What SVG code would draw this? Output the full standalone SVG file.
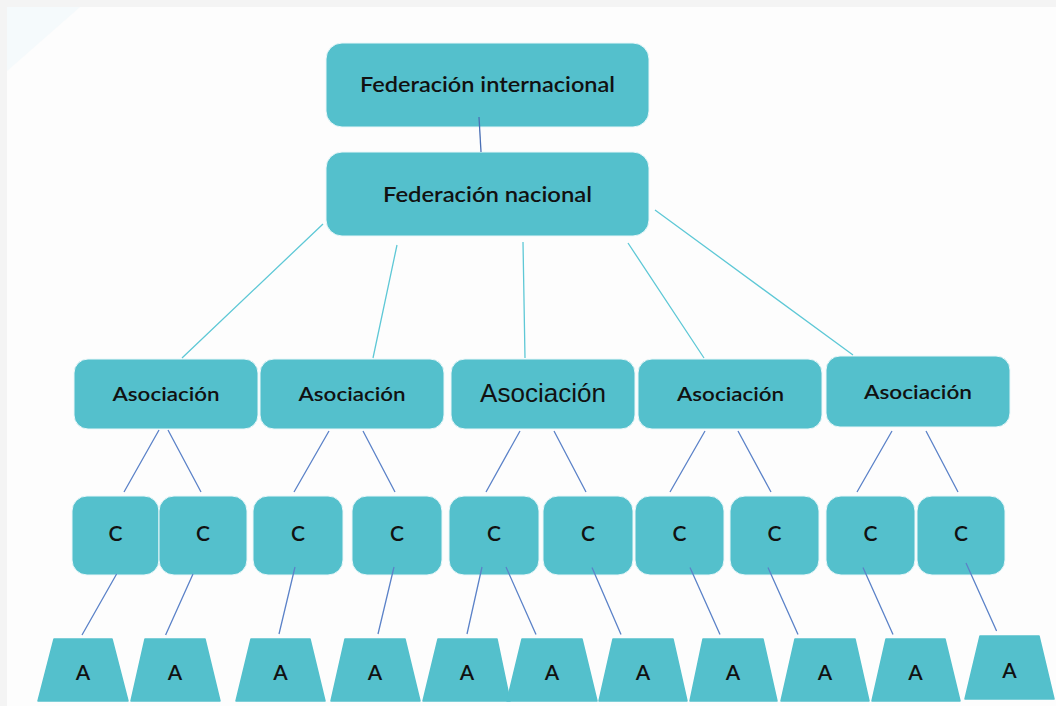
<svg xmlns="http://www.w3.org/2000/svg" width="1056" height="706" viewBox="0 0 1056 706">
<style>
.box{fill:#54c0cc;stroke:#e9f7f9;stroke-width:1}
.trap{fill:#54c0cc;stroke:#54c0cc;stroke-width:1.5;stroke-linejoin:round}
.t{font-family:Lato,"Noto Sans","DejaVu Sans",sans-serif;fill:#111;text-anchor:middle}
.big{font-size:21px;font-weight:600}
.mid{font-size:20px;font-weight:600}
.ltr{font-size:21px;font-weight:600}
.alt{font-family:"Liberation Sans",Arial,sans-serif;font-size:25px;fill:#111;text-anchor:middle}
.teal{stroke:#5ec8d6;stroke-width:1.3;fill:none}
.blue{stroke:#5b82c8;stroke-width:1.3;fill:none}
.dark{stroke:#4a6fb5;stroke-width:1.3;fill:none}
</style>
<rect x="0" y="0" width="1056" height="706" fill="#f4f4f4"/>
<rect x="7" y="7" width="1049" height="699" fill="#fdfdfd"/>
<polygon points="7,7 80,7 7,71" fill="#f5fafc"/>

<g id="fed-int"><rect class="box" x="326" y="43" width="323" height="84" rx="16"/><text class="t big" x="487.5" y="92" textLength="255" lengthAdjust="spacingAndGlyphs">Federación internacional</text></g>
<g id="fed-nac"><rect class="box" x="326" y="152" width="323" height="84" rx="16"/><text class="t big" x="487.5" y="201.5" textLength="209" lengthAdjust="spacingAndGlyphs">Federación nacional</text></g>

<g id="asoc1"><rect class="box" x="74" y="359" width="184" height="70" rx="14"/><text class="t mid" x="166" y="400.5" textLength="107" lengthAdjust="spacingAndGlyphs">Asociación</text></g>
<g id="asoc2"><rect class="box" x="260" y="359" width="184" height="70" rx="14"/><text class="t mid" x="352" y="400.5" textLength="107" lengthAdjust="spacingAndGlyphs">Asociación</text></g>
<g id="asoc3"><rect class="box" x="451" y="359" width="184" height="70" rx="14"/><text class="alt" x="543" y="401.5" textLength="126" lengthAdjust="spacingAndGlyphs">Asociación</text></g>
<g id="asoc4"><rect class="box" x="638" y="359" width="184" height="70" rx="14"/><text class="t mid" x="730.5" y="400.5" textLength="107" lengthAdjust="spacingAndGlyphs">Asociación</text></g>
<g id="asoc5"><rect class="box" x="826" y="356" width="184" height="71" rx="14"/><text class="t mid" x="918" y="399" textLength="108" lengthAdjust="spacingAndGlyphs">Asociación</text></g>

<g id="c1"><rect class="box" x="72" y="496" width="87" height="79" rx="15"/><text class="t ltr" x="115.5" y="541">C</text></g>
<g id="c2"><rect class="box" x="159" y="496" width="88" height="79" rx="15"/><text class="t ltr" x="203" y="541">C</text></g>
<g id="c3"><rect class="box" x="253" y="496" width="90" height="79" rx="15"/><text class="t ltr" x="298" y="541">C</text></g>
<g id="c4"><rect class="box" x="352" y="496" width="90" height="79" rx="15"/><text class="t ltr" x="397" y="541">C</text></g>
<g id="c5"><rect class="box" x="449" y="496" width="90" height="79" rx="15"/><text class="t ltr" x="494" y="541">C</text></g>
<g id="c6"><rect class="box" x="543" y="496" width="90" height="79" rx="15"/><text class="t ltr" x="588" y="541">C</text></g>
<g id="c7"><rect class="box" x="635" y="496" width="89" height="79" rx="15"/><text class="t ltr" x="679.5" y="541">C</text></g>
<g id="c8"><rect class="box" x="730" y="496" width="89" height="79" rx="15"/><text class="t ltr" x="774.5" y="541">C</text></g>
<g id="c9"><rect class="box" x="826" y="496" width="89" height="79" rx="15"/><text class="t ltr" x="870.5" y="541">C</text></g>
<g id="c10"><rect class="box" x="917" y="496" width="88" height="79" rx="15"/><text class="t ltr" x="961" y="541">C</text></g>

<g id="a1"><polygon class="trap" points="54,639 112,639 128,701 38,701"/><text class="t ltr" x="83" y="680">A</text></g>
<g id="a2"><polygon class="trap" points="145,639 205,639 220,701 131,701"/><text class="t ltr" x="175" y="680">A</text></g>
<g id="a3"><polygon class="trap" points="251,639 310,639 325,701 236,701"/><text class="t ltr" x="280.5" y="680">A</text></g>
<g id="a4"><polygon class="trap" points="345,639 405,639 420,701 331,701"/><text class="t ltr" x="375" y="680">A</text></g>
<g id="a5"><polygon class="trap" points="438,639 497,639 510,701 423,701"/><text class="t ltr" x="467" y="680">A</text></g>
<g id="a6"><polygon class="trap" points="522,639 582,639 597,701 507,701"/><text class="t ltr" x="552" y="680">A</text></g>
<g id="a7"><polygon class="trap" points="613,639 673,639 687,701 599,701"/><text class="t ltr" x="643" y="680">A</text></g>
<g id="a8"><polygon class="trap" points="703,639 763,639 777,701 690,701"/><text class="t ltr" x="733" y="680">A</text></g>
<g id="a9"><polygon class="trap" points="795,639 855,639 869,701 781,701"/><text class="t ltr" x="825" y="680">A</text></g>
<g id="a10"><polygon class="trap" points="886,639 945,639 960,701 872,701"/><text class="t ltr" x="915.5" y="680">A</text></g>
<g id="a11"><polygon class="trap" points="980,636 1039,636 1054,699 965,699"/><text class="t ltr" x="1009.5" y="677.5">A</text></g>

<g id="connectors">
<path class="dark" d="M479 117 L481 152"/>
<path class="teal" d="M323 224 L182 358 M397 245 L373 358 M523 242 L525 358 M628 243 L704 358 M655 210 L853 355"/>
<path class="blue" d="M159 430 L124 492 M168 430 L201 492 M329 431 L294 492 M363 431 L395 492 M520 431 L486 492 M554 431 L586 492 M705 431 L670 492 M738 431 L771 492 M892 431 L857 492 M926 431 L958 492"/>
<path class="blue" d="M116.6 574 L82 635 M193 574 L165.6 635 M295 567 L279 634 M394 567 L378 634 M482 567 L467 634 M506 567 L536 634.5 M592 567.5 L621 634.5 M690 567.5 L720 634.5 M768 567.5 L798 634.5 M863 567.5 L893 634.5 M966 563 L996.6 631"/>
</g>
</svg>
